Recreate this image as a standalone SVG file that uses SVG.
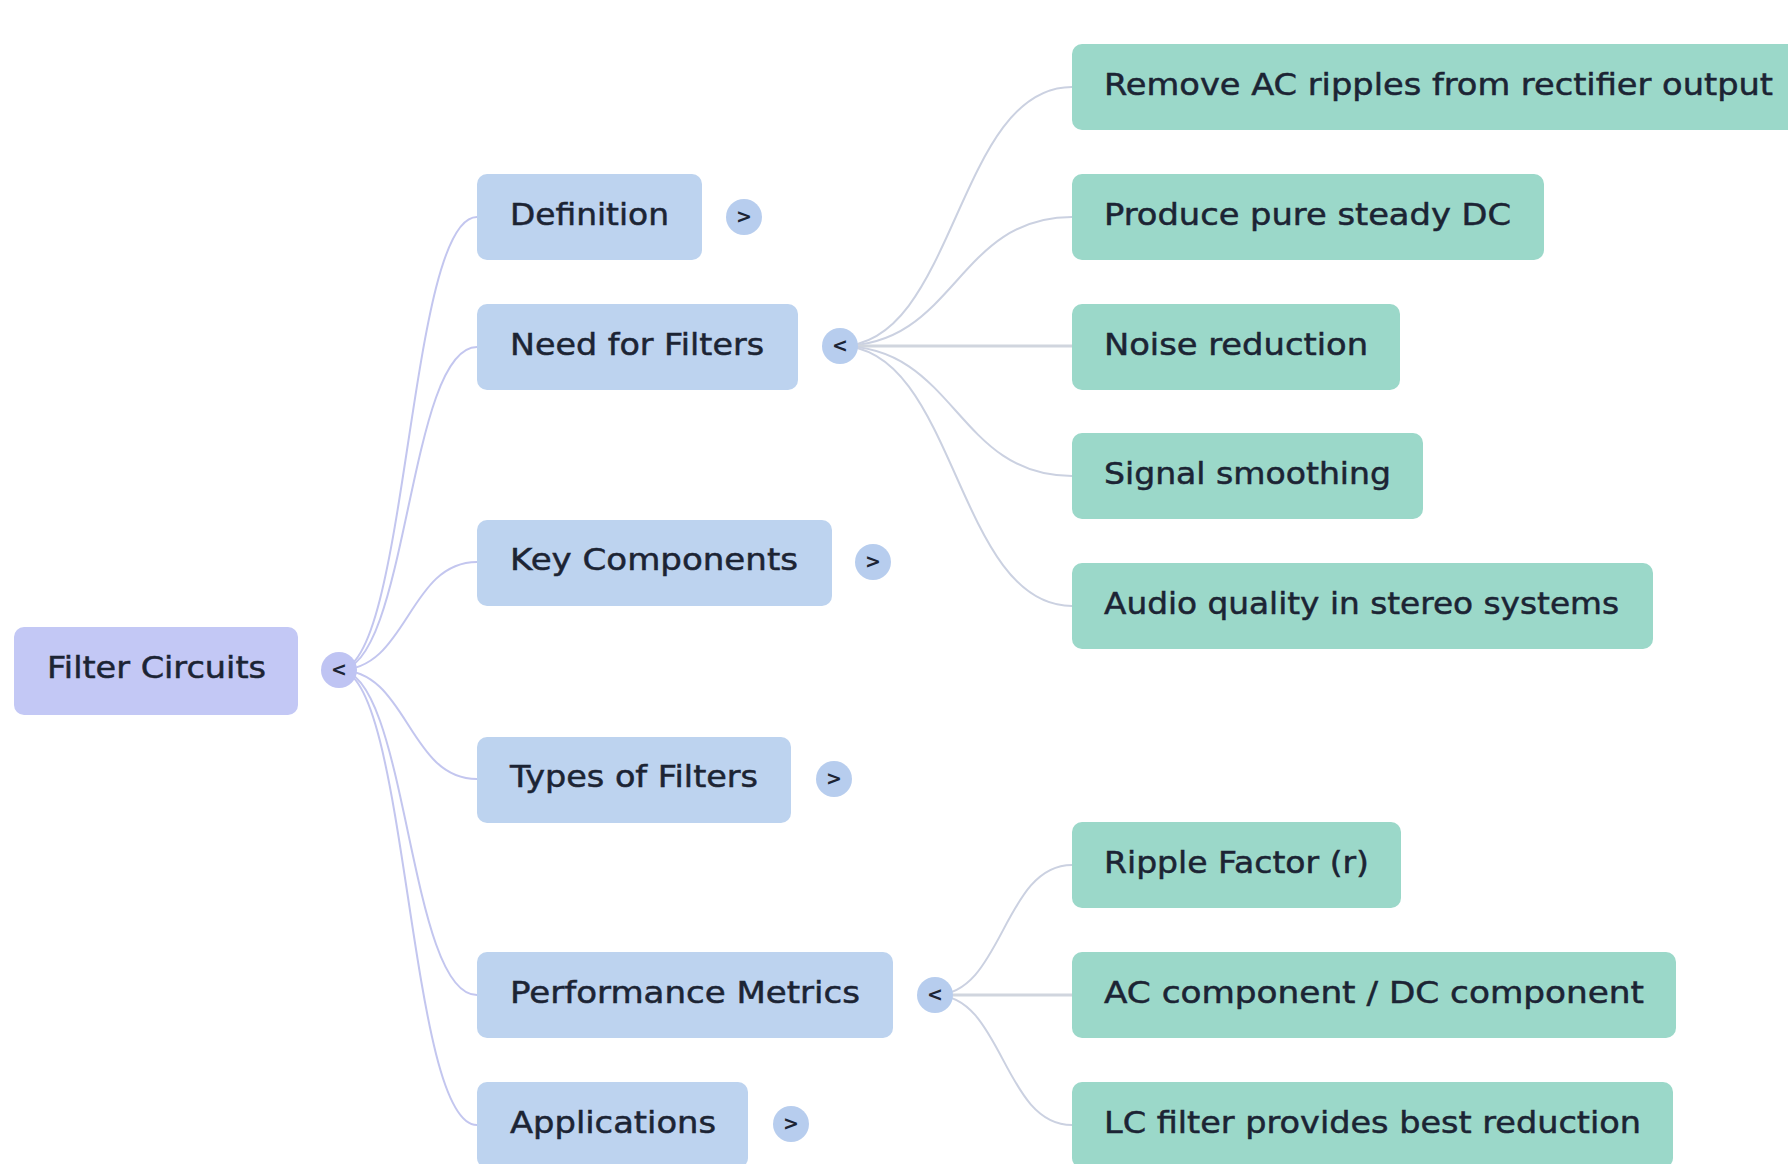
<svg xmlns="http://www.w3.org/2000/svg" width="1788" height="1164" viewBox="0 0 1788 1164">
<style>
  .lbl { font-family: "DejaVu Sans", "Liberation Sans", sans-serif; font-size: 30px; fill: #1c2434; stroke: #1c2434; stroke-width: 0.5; }
  .root { fill: #c3c8f5; }
  .blue { fill: #bdd3ef; }
  .green { fill: #9bd8c9; }
  .tg-root { fill: #bfc4f3; }
  .tg { fill: #b7cdee; }
  .chev { font-family: "DejaVu Sans", "Liberation Sans", sans-serif; font-size: 19px; font-weight: bold; fill: #1c2434; text-anchor: middle; }
  .c-root { fill: none; stroke: #c3c6ef; stroke-width: 2; }
  .c-sub { fill: none; stroke: #cbd1e1; stroke-width: 2; }
  .c-straight { fill: none; stroke: #d0d5de; stroke-width: 3; }
</style>
<rect width="1788" height="1164" fill="#ffffff"/>

<g id="connectors">
  <path class="c-root" d="M339,670 C408,670 408,217 477,217"/>
  <path class="c-root" d="M339,670 C408,670 408,347 477,347"/>
  <path class="c-root" d="M339,670 C408,670 408,562 477,562"/>
  <path class="c-root" d="M339,670 C408,670 408,779 477,779"/>
  <path class="c-root" d="M339,670 C408,670 408,995 477,995"/>
  <path class="c-root" d="M339,670 C408,670 408,1125 477,1125"/>

  <path class="c-sub" d="M840,346 C956,346 956,87 1072,87"/>
  <path class="c-sub" d="M840,346 C956,346 956,217 1072,217"/>
  <path class="c-straight" d="M840,346 L1072,346"/>
  <path class="c-sub" d="M840,346 C956,346 956,476 1072,476"/>
  <path class="c-sub" d="M840,346 C956,346 956,606 1072,606"/>

  <path class="c-sub" d="M935,995 C1003,995 1003,865 1072,865"/>
  <path class="c-straight" d="M935,995 L1072,995"/>
  <path class="c-sub" d="M935,995 C1003,995 1003,1125 1072,1125"/>
</g>

<g id="node-filter-circuits">
  <rect class="root" x="14" y="627" width="284" height="88" rx="10"/>
  <text class="lbl" x="47" y="678" textLength="219" lengthAdjust="spacingAndGlyphs">Filter Circuits</text>
  <circle class="tg-root" cx="339" cy="670" r="18"/>
  <text class="chev" x="339" y="676">&lt;</text>
</g>

<g id="node-definition">
  <rect class="blue" x="477" y="174" width="225" height="86" rx="10"/>
  <text class="lbl" x="510" y="225" textLength="159" lengthAdjust="spacingAndGlyphs">Definition</text>
  <circle class="tg" cx="744" cy="217" r="18"/>
  <text class="chev" x="744" y="223">&gt;</text>
</g>

<g id="node-need">
  <rect class="blue" x="477" y="304" width="321" height="86" rx="10"/>
  <text class="lbl" x="510" y="355" textLength="254" lengthAdjust="spacingAndGlyphs">Need for Filters</text>
  <circle class="tg" cx="840" cy="346" r="18"/>
  <text class="chev" x="840" y="352">&lt;</text>
</g>

<g id="node-key">
  <rect class="blue" x="477" y="520" width="355" height="86" rx="10"/>
  <text class="lbl" x="510" y="570" textLength="288" lengthAdjust="spacingAndGlyphs">Key Components</text>
  <circle class="tg" cx="873" cy="562" r="18"/>
  <text class="chev" x="873" y="568">&gt;</text>
</g>

<g id="node-types">
  <rect class="blue" x="477" y="737" width="314" height="86" rx="10"/>
  <text class="lbl" x="510" y="787" textLength="248" lengthAdjust="spacingAndGlyphs">Types of Filters</text>
  <circle class="tg" cx="834" cy="779" r="18"/>
  <text class="chev" x="834" y="785">&gt;</text>
</g>

<g id="node-performance">
  <rect class="blue" x="477" y="952" width="416" height="86" rx="10"/>
  <text class="lbl" x="510" y="1003" textLength="350" lengthAdjust="spacingAndGlyphs">Performance Metrics</text>
  <circle class="tg" cx="935" cy="995" r="18"/>
  <text class="chev" x="935" y="1001">&lt;</text>
</g>

<g id="node-applications">
  <rect class="blue" x="477" y="1082" width="271" height="86" rx="10"/>
  <text class="lbl" x="510" y="1133" textLength="206" lengthAdjust="spacingAndGlyphs">Applications</text>
  <circle class="tg" cx="791" cy="1124" r="18"/>
  <text class="chev" x="791" y="1130">&gt;</text>
</g>

<g id="node-remove-ac">
  <rect class="green" x="1072" y="44" width="740" height="86" rx="10"/>
  <text class="lbl" x="1104" y="95" textLength="669" lengthAdjust="spacingAndGlyphs">Remove AC ripples from rectifier output</text>
</g>

<g id="node-produce">
  <rect class="green" x="1072" y="174" width="472" height="86" rx="10"/>
  <text class="lbl" x="1104" y="225" textLength="407" lengthAdjust="spacingAndGlyphs">Produce pure steady DC</text>
</g>

<g id="node-noise">
  <rect class="green" x="1072" y="304" width="328" height="86" rx="10"/>
  <text class="lbl" x="1104" y="355" textLength="264" lengthAdjust="spacingAndGlyphs">Noise reduction</text>
</g>

<g id="node-signal">
  <rect class="green" x="1072" y="433" width="351" height="86" rx="10"/>
  <text class="lbl" x="1104" y="484" textLength="287" lengthAdjust="spacingAndGlyphs">Signal smoothing</text>
</g>

<g id="node-audio">
  <rect class="green" x="1072" y="563" width="581" height="86" rx="10"/>
  <text class="lbl" x="1104" y="614" textLength="515" lengthAdjust="spacingAndGlyphs">Audio quality in stereo systems</text>
</g>

<g id="node-ripple">
  <rect class="green" x="1072" y="822" width="329" height="86" rx="10"/>
  <text class="lbl" x="1104" y="873" textLength="265" lengthAdjust="spacingAndGlyphs">Ripple Factor (r)</text>
</g>

<g id="node-ac-dc">
  <rect class="green" x="1072" y="952" width="604" height="86" rx="10"/>
  <text class="lbl" x="1104" y="1003" textLength="540" lengthAdjust="spacingAndGlyphs">AC component / DC component</text>
</g>

<g id="node-lc">
  <rect class="green" x="1072" y="1082" width="601" height="86" rx="10"/>
  <text class="lbl" x="1104" y="1133" textLength="537" lengthAdjust="spacingAndGlyphs">LC filter provides best reduction</text>
</g>
</svg>
